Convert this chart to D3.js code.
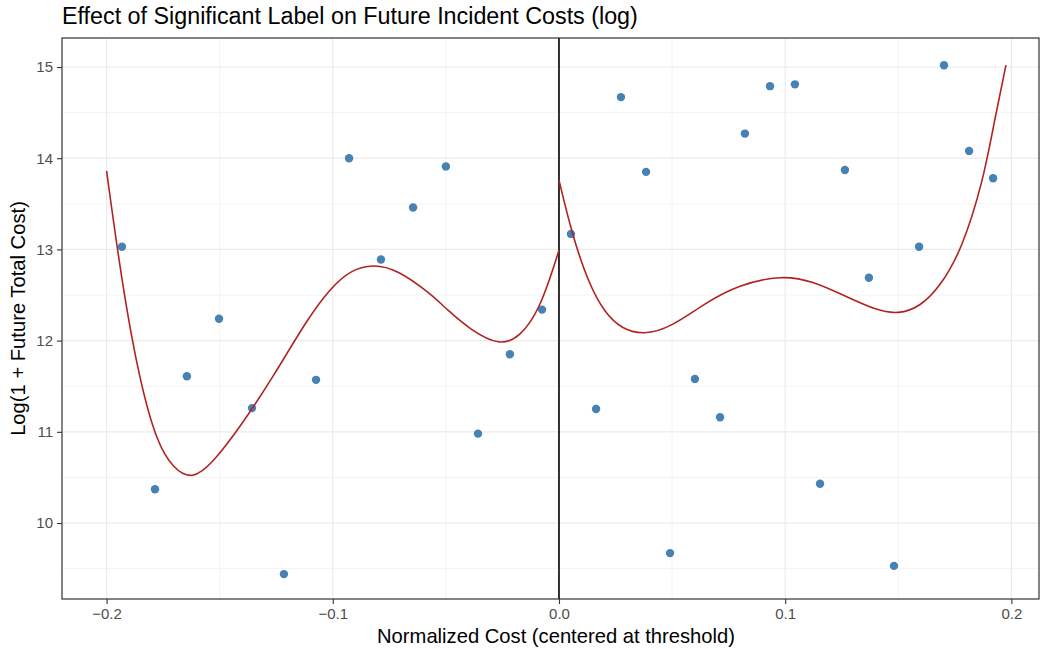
<!DOCTYPE html>
<html><head><meta charset="utf-8">
<script src="https://cdn.jsdelivr.net/npm/d3@7"></script>
<style>body{margin:0;background:#fff;} svg{display:block;font-family:"Liberation Sans",Arial,sans-serif;}</style>
</head><body>
<svg id="chart" width="1040" height="649"></svg>
<script>
// Scatter points (normalized cost, log cost)
const pointX = [-0.1932,-0.1786,-0.1645,-0.1503,-0.1357,-0.1216,-0.1074,-0.0928,-0.0787,-0.0645,-0.0500,-0.0358,-0.0217,-0.0075,
  0.0053,0.0164,0.0274,0.0385,0.0491,0.0601,0.0712,0.0822,0.0933,0.1043,0.1154,0.1264,0.1370,0.1481,0.1592,0.1702,0.1813,0.1919];
const pointY = [13.03,10.37,11.61,12.24,11.26,9.44,11.57,14.00,12.89,13.46,13.91,10.98,11.85,12.34,
  13.17,11.25,14.67,13.85,9.67,11.58,11.16,14.27,14.79,14.81,10.43,13.87,12.69,9.53,13.03,15.02,14.08,13.78];
// Fitted curve, left of threshold
const leftFitX = [-0.2,-0.1928,-0.1852,-0.1777,-0.1706,-0.1622,-0.1530,-0.1410,-0.1264,-0.1114,-0.1012,-0.0924,-0.0822,-0.0716,-0.0570,-0.0495,-0.0393,-0.0261,-0.0172,-0.0084,0];
const leftFitY = [13.86,12.56,11.54,10.88,10.60,10.47,10.66,11.05,11.60,12.23,12.57,12.77,12.84,12.78,12.52,12.34,12.12,11.94,12.04,12.34,12.99];
// Fitted curve, right of threshold
const rightFitX = [0,0.0056,0.0130,0.0203,0.0277,0.0373,0.0498,0.0645,0.0793,0.0985,0.1124,0.1272,0.1405,0.1500,0.1596,0.1684,0.1780,0.1876,0.1920,0.1976];
const rightFitY = [13.76,13.18,12.63,12.30,12.13,12.06,12.15,12.41,12.61,12.72,12.65,12.48,12.33,12.29,12.37,12.59,12.99,13.76,14.35,15.02];
// Ticks
const xTicks = [-0.2,-0.1,0.0,0.1,0.2];
const xTickLabels = ["\u22120.2","\u22120.1","0.0","0.1","0.2"];
const xMinor = [-0.15,-0.05,0.05,0.15];
const yTicks = [10,11,12,13,14,15];
const yMinor = [9.5,10.5,11.5,12.5,13.5,14.5];
const title = "Effect of Significant Label on Future Incident Costs (log)";
const xTitle = "Normalized Cost (centered at threshold)";
const yTitle = "Log(1 + Future Total Cost)";

const svg = d3.select("#chart");
const L = 62, R = 1039, T = 38, B = 599;
const x = d3.scaleLinear().domain([-0.2197, 0.2122]).range([L, R]);
const y = d3.scaleLinear().domain([9.167, 15.318]).range([B, T]);

const g = svg.append("g");
// grid
g.selectAll(".xmin").data(xMinor).join("line").attr("x1",d=>x(d)).attr("x2",d=>x(d)).attr("y1",T).attr("y2",B).attr("stroke","#ebebeb").attr("stroke-width",0.6);
g.selectAll(".ymin").data(yMinor).join("line").attr("y1",d=>y(d)).attr("y2",d=>y(d)).attr("x1",L).attr("x2",R).attr("stroke","#ebebeb").attr("stroke-width",0.6);
g.selectAll(".xmaj").data(xTicks).join("line").attr("x1",d=>x(d)).attr("x2",d=>x(d)).attr("y1",T).attr("y2",B).attr("stroke","#ebebeb").attr("stroke-width",1.2);
g.selectAll(".ymaj").data(yTicks).join("line").attr("y1",d=>y(d)).attr("y2",d=>y(d)).attr("x1",L).attr("x2",R).attr("stroke","#ebebeb").attr("stroke-width",1.2);

// vertical threshold line
g.append("line").attr("x1",x(0)).attr("x2",x(0)).attr("y1",T).attr("y2",B).attr("stroke","#000").attr("stroke-width",1.6);

// points
const pts = pointX.map((d,i)=>({x:d,y:pointY[i]}));
g.selectAll("circle").data(pts).join("circle").attr("cx",d=>x(d.x)).attr("cy",d=>y(d.y)).attr("r",4.2).attr("fill","#4682b4");

// fit lines
const line = d3.line().x(d=>x(d[0])).y(d=>y(d[1])).curve(d3.curveBasis);
g.append("path").attr("d",line(leftFitX.map((d,i)=>[d,leftFitY[i]]))).attr("fill","none").attr("stroke","#b22222").attr("stroke-width",1.6);
g.append("path").attr("d",line(rightFitX.map((d,i)=>[d,rightFitY[i]]))).attr("fill","none").attr("stroke","#b22222").attr("stroke-width",1.6);

// panel border
svg.append("rect").attr("x",L).attr("y",T).attr("width",R-L).attr("height",B-T).attr("fill","none").attr("stroke","#333").attr("stroke-width",1.2);

// axes
const xAxis = d3.axisBottom(x).tickValues(xTicks).tickFormat((d,i)=>xTickLabels[i]).tickSize(5).tickPadding(4);
const xa = svg.append("g").attr("transform",`translate(0,${B})`).call(xAxis);
xa.select(".domain").remove();
xa.selectAll("line").attr("stroke","#333").attr("stroke-width",1.1);
xa.selectAll("text").attr("fill","#4d4d4d").style("font-size","15px").style("font-family","Liberation Sans, Arial, sans-serif");

const yAxis = d3.axisLeft(y).tickValues(yTicks).tickFormat(d3.format("d")).tickSize(5).tickPadding(4);
const ya = svg.append("g").attr("transform",`translate(${L},0)`).call(yAxis);
ya.select(".domain").remove();
ya.selectAll("line").attr("stroke","#333").attr("stroke-width",1.1);
ya.selectAll("text").attr("fill","#4d4d4d").style("font-size","15px").style("font-family","Liberation Sans, Arial, sans-serif");

// titles
svg.append("text").attr("x",L).attr("y",24).text(title).attr("fill","#000").style("font-size","23.3px");
svg.append("text").attr("x",556).attr("y",643).attr("text-anchor","middle").text(xTitle).style("font-size","20.2px");
svg.append("text").attr("transform",`translate(25,${(T+B)/2}) rotate(-90)`).attr("text-anchor","middle").text(yTitle).style("font-size","20.2px");
</script>
</body></html>
